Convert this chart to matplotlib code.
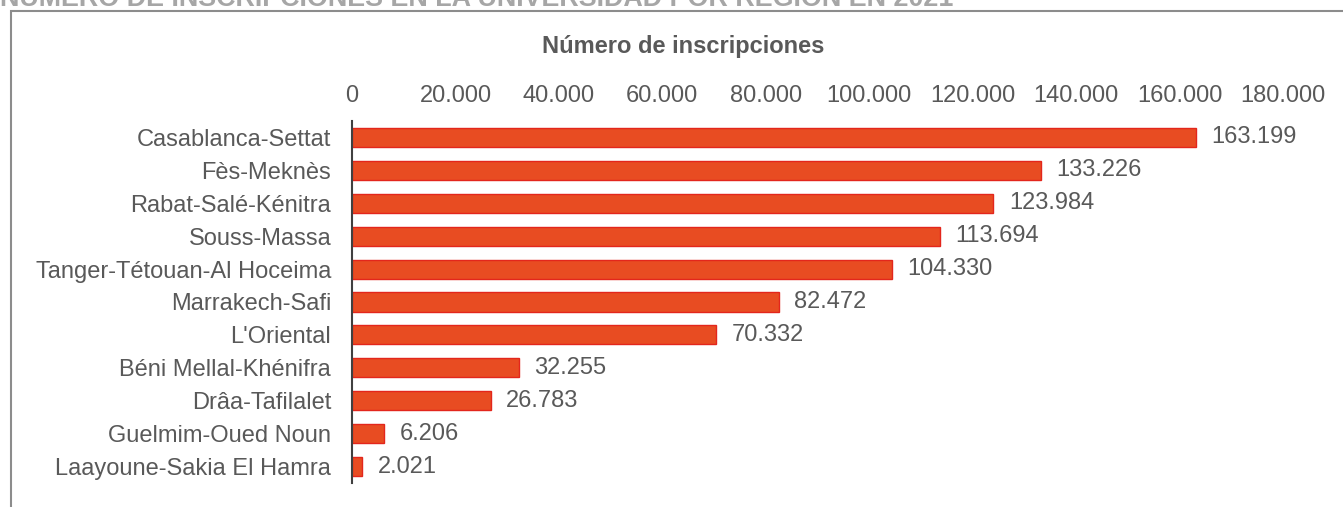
import matplotlib.pyplot as plt
from matplotlib.patches import Rectangle

plt.rcParams['font.family'] = ['Liberation Sans', 'DejaVu Sans']

regions = [
    "Casablanca-Settat", "Fès-Meknès", "Rabat-Salé-Kénitra", "Souss-Massa",
    "Tanger-Tétouan-Al Hoceima", "Marrakech-Safi", "L'Oriental",
    "Béni Mellal-Khénifra", "Drâa-Tafilalet", "Guelmim-Oued Noun",
    "Laayoune-Sakia El Hamra",
]
enrolments = [163199, 133226, 123984, 113694, 104330, 82472, 70332,
              32255, 26783, 6206, 2021]
x_ticks = list(range(0, 180001, 20000))

W, H = 1343, 507
text_color = "#595959"
bar_color = "#e84c22"
edge_color = "#e3261c"
fs = 17


def fmt(v):
    # thousands with a dot, as in Spanish
    return f"{v:,}".replace(",", ".")


fig = plt.figure(figsize=(W / 100, H / 100), dpi=100)

# outer frame, cut by the image on the right and bottom
fig.patches.append(Rectangle((11 / W, -0.1), 1.2, 1 - 11 / H + 0.1,
                             transform=fig.transFigure, fill=False,
                             edgecolor="#8c8c8c", linewidth=1.5))

# the title sits mostly above the picture, as in the source
fig.text(0 / W, 1 - 6 / H, "NÚMERO DE INSCRIPCIONES EN LA UNIVERSIDAD POR REGIÓN EN 2021",
         fontsize=19.4, fontweight="bold", color="#a6a6a6", ha="left", va="baseline")

left, right, top, bottom = 352, 1283, 121, 483
ax = fig.add_axes([left / W, 1 - bottom / H, (right - left) / W, (bottom - top) / H])

ypos = range(len(regions))
ax.barh(ypos, enrolments, height=0.58, color=bar_color, edgecolor=edge_color, linewidth=1)
for y, v in zip(ypos, enrolments):
    ax.text(v + 3000, y, fmt(v), va="center", ha="left", fontsize=fs, color=text_color)

ax.set_xlim(0, 180000)
ax.set_ylim(len(regions) - 0.5, -0.5)
ax.set_yticks(list(ypos))
ax.set_yticklabels(regions)
ax.set_xticks(x_ticks)
ax.set_xticklabels([fmt(t) for t in x_ticks])
ax.xaxis.tick_top()
ax.tick_params(axis="both", length=0, labelsize=fs, colors=text_color)
ax.tick_params(axis="x", pad=10)
ax.tick_params(axis="y", pad=15)

for name, spine in ax.spines.items():
    spine.set_visible(name == "left")
ax.spines["left"].set_color("#404040")
ax.spines["left"].set_linewidth(1.5)

fig.text(683 / W, 1 - 46 / H, "Número de inscripciones", fontsize=fs,
         fontweight="bold", color=text_color, ha="center", va="center")

fig.savefig("out.png", dpi=100)
